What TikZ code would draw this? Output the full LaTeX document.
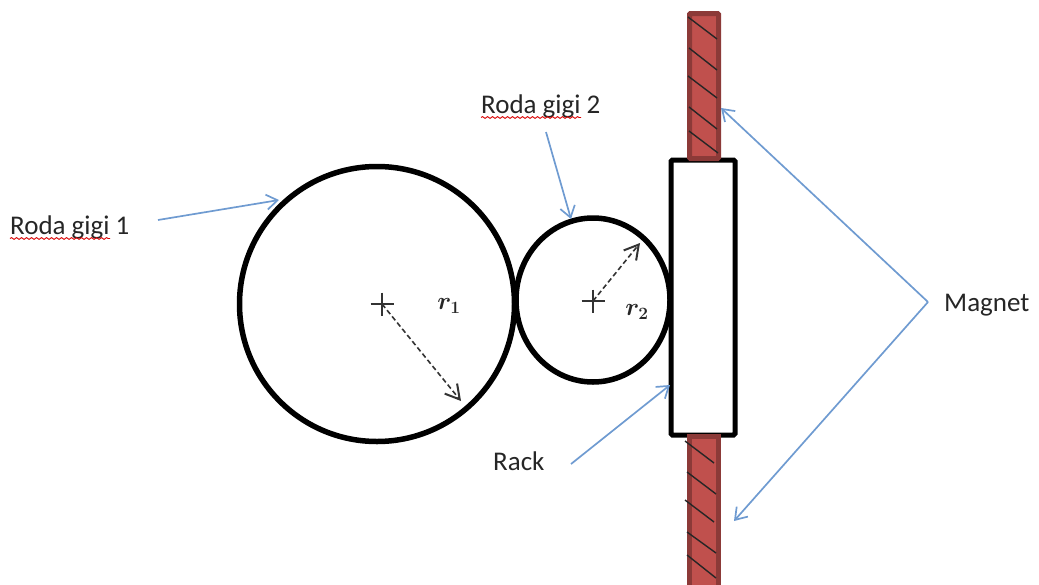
\documentclass[tikz,border=0pt]{standalone}
\usepackage{fontspec}
\setmainfont{Carlito}
\usetikzlibrary{arrows.meta,decorations.pathmorphing}
\definecolor{leader}{HTML}{6F9BD1}
\definecolor{magfill}{HTML}{C0504D}
\definecolor{magedge}{HTML}{8C3A38}
\tikzset{
  x=1pt,y=-1pt,
  gear/.style={draw=black,line width=5.5pt},
  rackbox/.style={draw=black,line width=5pt,fill=white,rounded corners=1.5pt},
  magbar/.style={draw=magedge,line width=5pt,fill=magfill,rounded corners=1pt},
  hatch/.style={draw=black!85,line width=1.4pt},
  leaderline/.style={draw=leader,line width=1.7pt,-{Straight Barb[length=11pt,width=15pt,line width=1.7pt]}},
  radius line/.style={draw=black!80,line width=1.6pt,dash pattern=on 5pt off 3pt,-{Straight Barb[length=14pt,width=16pt,line width=2pt]}},
  crossline/.style={draw=black!80,line width=1.2pt},
  lbl/.style={font=\fontsize{27}{30}\selectfont,text=black!85,inner sep=0pt,anchor=base west},
  mathlbl/.style={font=\fontsize{27}{29}\selectfont\boldmath,text=black!85,inner sep=0pt},
  squiggle/.style={draw=red!85!black,line width=0.9pt,decorate,decoration={snake,amplitude=0.9pt,segment length=5pt}}
}
\begin{document}
\begin{tikzpicture}
\useasboundingbox (0,0) rectangle (1039,584);
% gears
\node[gear,circle,minimum size=275pt,inner sep=0pt] (g1) at (377,304) {};
\draw[gear] (593,300) ellipse [x radius=77,y radius=82];
\coordinate (g2) at (593,300);
% rack
\node[rackbox,minimum width=64pt,minimum height=275pt,inner sep=0pt] (rack) at (703,297.5) {};
% magnets
\draw[magbar] (689.5,13.5) rectangle (718.5,158.5);
\draw[magbar,rounded corners=0pt] (689.5,436.5) rectangle (718.5,590);
\begin{scope}
\clip (0,0) rectangle (1039,584);
\foreach \xa/\ya/\xb/\yb in {688/17/717/39,689/48/717/70,688/76/717/98,689/107/717/129,689/131/718/153,
  685/441/714/463,687/472/716/494,685/500/714/522,687/532/716/553,687/555/716/578}
  \draw[hatch] (\xa,\ya) -- (\xb,\yb);
\end{scope}
% centres
\coordinate (c1) at (382,304);
\coordinate (c2) at (593,301);
\draw[crossline] (370.5,304) -- (393.5,304) (382,292.5) -- (382,315.5);
\draw[crossline] (581.5,301) -- (604.5,301) (593,289.5) -- (593,312.5);
% radii
\coordinate (e1) at (461,401);
\coordinate (e2) at (640,243);
\draw[radius line] (c1) -- (e1);
\draw[radius line] (c2) -- (e2);
\node[mathlbl] (r1) at (449,306) {\(r_1\)};
\node[mathlbl] (r2) at (637,312) {\(r_2\)};
% labels
\node[lbl] (t1) at (10,234.5) {Roda gigi 1};
\draw[squiggle] (10,238.5) -- (110,238.5);
\node[lbl] (t2) at (481,113.5) {Roda gigi 2};
\draw[squiggle] (481,117.5) -- (581,117.5);
\node[lbl] (t3) at (493,470) {Rack};
\node[lbl] (t4) at (944,311) {Magnet};
% leaders
\coordinate (a1s) at (158,220); \coordinate (a1e) at (279,200);
\coordinate (a2s) at (546,132); \coordinate (a2e) at (571,219);
\coordinate (a3s) at (571,464); \coordinate (a3e) at (670,385);
\coordinate (m) at (928,302);
\coordinate (m1) at (721,108); \coordinate (m2) at (734,521);
\draw[leaderline] (a1s) -- (a1e);
\draw[leaderline] (a2s) -- (a2e);
\draw[leaderline] (a3s) -- (a3e);
\draw[leaderline] (m) -- (m1);
\draw[leaderline] (m) -- (m2);
\end{tikzpicture}
\end{document}
